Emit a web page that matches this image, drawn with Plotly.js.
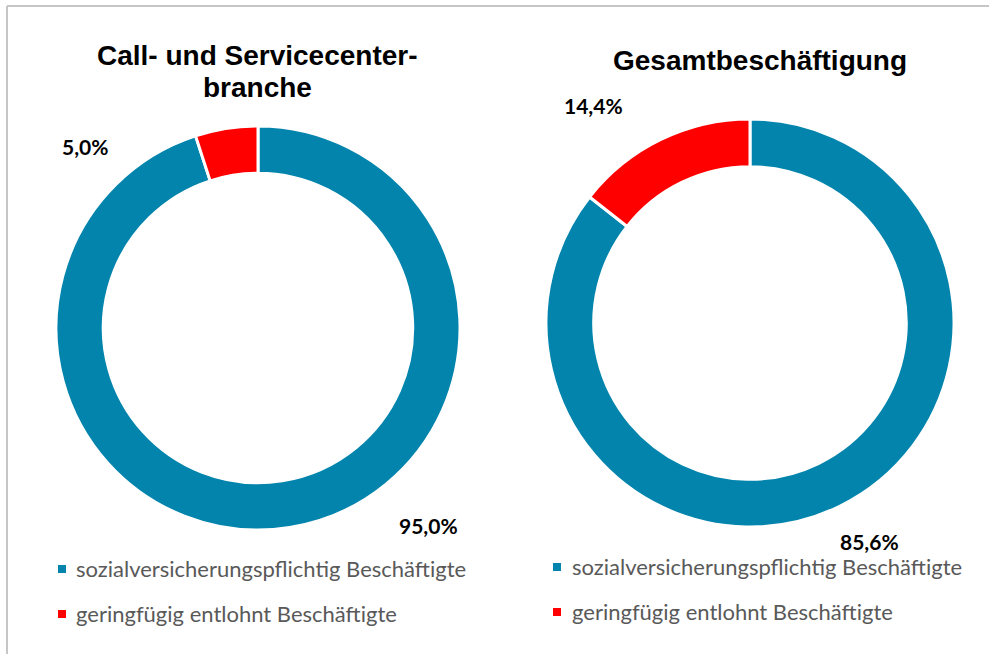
<!DOCTYPE html>
<html>
<head>
<meta charset="utf-8">
<script src="https://cdn.plot.ly/plotly-3.0.1.min.js"></script>
<style>html,body{margin:0;padding:0;background:#fff;}#chart{width:989px;height:654px;}</style>
</head>
<body>
<div id="chart"></div>
<script>
// ---- data ----
var categories = ["sozialversicherungspflichtig Beschäftigte", "geringfügig entlohnt Beschäftigte"];
var colors = ["#0284ac", "#ff0000"];
var titlesLeft = ["Call- und Servicecenter-", "branche"];
var titleRight = "Gesamtbeschäftigung";
var valuesCallcenter = [95.0, 5.0];
var valuesGesamt = [85.6, 14.4];

function fmt(v){ return v.toFixed(1).replace('.', ',') + '%'; }

var W = 989, H = 654;
function px(x){ return x / W; }
function py(y){ return 1 - y / H; }

var pieCommon = {
  type: 'pie', labels: categories, sort: false, direction: 'clockwise', rotation: 0,
  hole: 0.766, textinfo: 'none', showlegend: false,
  marker: {colors: colors, line: {color: '#ffffff', width: 3}}
};
var trace1 = Object.assign({}, pieCommon, {
  values: valuesCallcenter, name: titlesLeft.join(''),
  domain: {x: [px(56), px(460)], y: [py(530), py(126)]}
});
var trace2 = Object.assign({}, pieCommon, {
  values: valuesGesamt, name: titleRight,
  domain: {x: [px(546), px(954)], y: [py(527), py(119)]}
});

var titleFont = {family: 'Liberation Sans, Arial, sans-serif', size: 28, color: '#000000'};
var labelFont = {family: 'Lato, sans-serif', size: 21, color: '#000000', weight: 'bold'};
var legendFont = {family: 'Lato, sans-serif', size: 22, color: '#595959'};

var annotations = [
  {text: '<b>' + titlesLeft[0] + '</b>', x: px(257), y: py(56), xref: 'paper', yref: 'paper', xanchor: 'center', yanchor: 'middle', showarrow: false, font: titleFont},
  {text: '<b>' + titlesLeft[1] + '</b>', x: px(257), y: py(88), xref: 'paper', yref: 'paper', xanchor: 'center', yanchor: 'middle', showarrow: false, font: titleFont},
  {text: '<b>' + titleRight + '</b>', x: px(760), y: py(60), xref: 'paper', yref: 'paper', xanchor: 'center', yanchor: 'middle', showarrow: false, font: titleFont},
  // value labels
  {text: '<b>' + fmt(valuesCallcenter[1]) + '</b>', x: px(85), y: py(146), xref: 'paper', yref: 'paper', xanchor: 'center', yanchor: 'middle', showarrow: false, font: labelFont},
  {text: '<b>' + fmt(valuesCallcenter[0]) + '</b>', x: px(428), y: py(525), xref: 'paper', yref: 'paper', xanchor: 'center', yanchor: 'middle', showarrow: false, font: labelFont},
  {text: '<b>' + fmt(valuesGesamt[1]) + '</b>', x: px(593), y: py(105), xref: 'paper', yref: 'paper', xanchor: 'center', yanchor: 'middle', showarrow: false, font: labelFont},
  {text: '<b>' + fmt(valuesGesamt[0]) + '</b>', x: px(869), y: py(541), xref: 'paper', yref: 'paper', xanchor: 'center', yanchor: 'middle', showarrow: false, font: labelFont}
];

var shapes = [
  {type: 'line', xref: 'paper', yref: 'paper', x0: px(7), x1: 1, y0: py(6), y1: py(6), line: {color: '#c6c6c6', width: 2}},
  {type: 'line', xref: 'paper', yref: 'paper', x0: px(7), x1: px(7), y0: py(6), y1: 0, line: {color: '#c6c6c6', width: 2}}
];

// legends (one per donut)
var legendPos = [
  {mx: 58, tx: 74, ys: [569, 614]},
  {mx: 553, tx: 570, ys: [567, 612]}
];
legendPos.forEach(function(lp){
  categories.forEach(function(c, i){
    shapes.push({type: 'rect', xref: 'paper', yref: 'paper', x0: px(lp.mx), x1: px(lp.mx + 8), y0: py(lp.ys[i] + 4), y1: py(lp.ys[i] - 4), fillcolor: colors[i], line: {width: 0}});
    annotations.push({text: c, x: px(lp.tx), y: py(lp.ys[i] - 1), xref: 'paper', yref: 'paper', xanchor: 'left', yanchor: 'middle', showarrow: false, font: legendFont});
  });
});

var layout = {
  width: W, height: H, margin: {l: 0, r: 0, t: 0, b: 0},
  paper_bgcolor: '#ffffff', plot_bgcolor: '#ffffff',
  showlegend: false, annotations: annotations, shapes: shapes
};

Plotly.newPlot('chart', [trace1, trace2], layout, {displayModeBar: false, staticPlot: true});
</script>
</body>
</html>
